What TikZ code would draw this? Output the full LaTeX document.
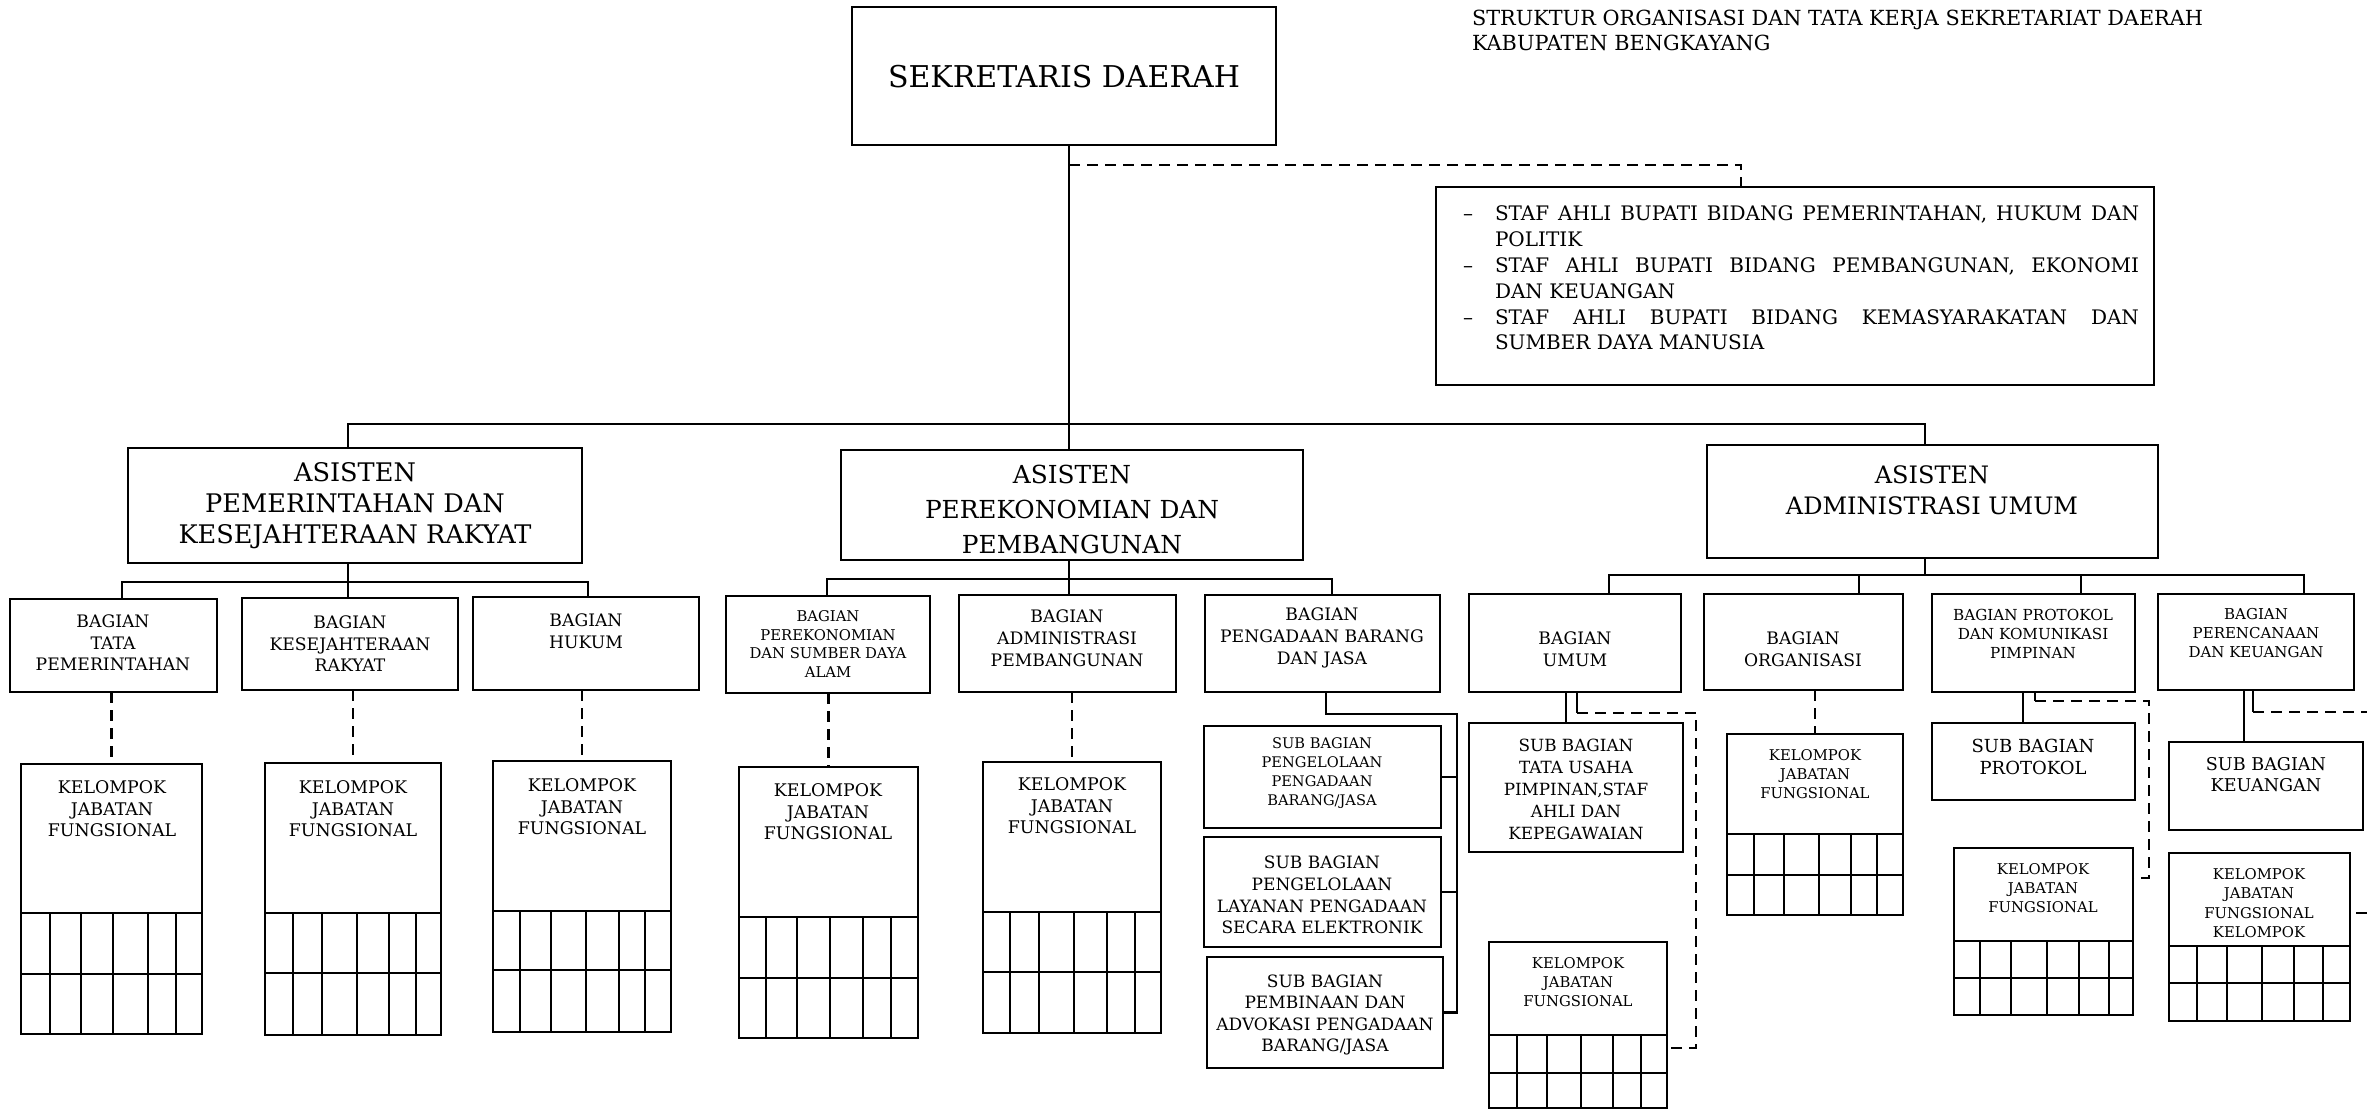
\documentclass[tikz,border=0pt]{standalone}
\usepackage{fontspec}
\setmainfont{DejaVu Serif}
\newcommand\fs[2]{\fontsize{#1}{#2}\selectfont}
% box: name, x1, y1, x2, y2 (pixel coordinates of the reference)
\newcommand\bx[5]{\node[bx, minimum width={(#4-#2)*0.5pt}, minimum height={(#5-#3)*0.5pt}] (#1) at ({(#2+#4)/2},{(#3+#5)/2}) {};}
% text: name, x, y, font, text
\newcommand\tx[5]{\node[tx, font=#4] (#1) at (#2,#3) {#5};}
% kelompok box with grid: name, x1, y1, x2, y2, grid y1, grid y2, column x list
\newcommand\kjf[8]{\bx{#1}{#2}{#3}{#4}{#5}
  \draw (#2,#6) -- (#4,#6);
  \draw (#2,#7) -- (#4,#7);
  \foreach \xx in {#8} {\draw (\xx,#6) -- (\xx,#5);}}
\begin{document}
\begin{tikzpicture}[x=0.5pt,y=-0.5pt,line width=1.25pt,
  bx/.style={draw,rectangle,inner sep=0pt,outer sep=0pt},
  tx/.style={align=center,inner sep=0pt,outer sep=0pt},
  dl/.style={dash pattern=on 5.5pt off 3.5pt}]
\useasboundingbox (0,0) rectangle (2367,1110);
\fill[white] (0,0) rectangle (2367,1110);

% ---------- title ----------
\node[tx, anchor=north west, align=left, font=\fs{10.4}{12.5}] (title) at (1472,10.5)
  {STRUKTUR ORGANISASI DAN TATA KERJA SEKRETARIAT DAERAH\\KABUPATEN BENGKAYANG};

% ---------- level 0 ----------
\bx{sek}{852}{7}{1276}{145}
\tx{sekt}{1064}{77}{\fs{15}{18}}{SEKRETARIS DAERAH}

\bx{staf}{1436}{187}{2154}{385}
\node[tx, anchor=north west, text width=338pt, align=justify, font=\fs{10}{12.9}] (staft) at (1463,206)
{\hyphenpenalty=10000\exhyphenpenalty=10000
\noindent\hangindent=16pt\hangafter=1\makebox[16pt][l]{--}STAF AHLI BUPATI BIDANG PEMERINTAHAN, HUKUM DAN\linebreak POLITIK\par
\noindent\hangindent=16pt\hangafter=1\makebox[16pt][l]{--}STAF AHLI BUPATI BIDANG PEMBANGUNAN, EKONOMI\linebreak DAN KEUANGAN\par
\noindent\hangindent=16pt\hangafter=1\makebox[16pt][l]{--}STAF AHLI BUPATI BIDANG KEMASYARAKATAN DAN\linebreak SUMBER DAYA MANUSIA\par};

% ---------- assistants ----------
\bx{a1}{128}{448}{582}{563}
\tx{a1t}{355}{506}{\fs{12.8}{15.5}}{ASISTEN\\PEMERINTAHAN DAN\\KESEJAHTERAAN RAKYAT}
\bx{a2}{841}{450}{1303}{560}
\tx{a2t}{1072}{509}{\fs{12.4}{17.5}}{ASISTEN\\PEREKONOMIAN DAN\\PEMBANGUNAN}
\bx{a3}{1707}{445}{2158}{558}
\tx{a3t}{1932}{490}{\fs{12}{15.5}}{ASISTEN\\ADMINISTRASI UMUM}

% ---------- bagian ----------
\bx{tata}{10}{599}{217}{692}
\tx{tatat}{113}{643}{\fs{8.6}{10.8}}{BAGIAN\\TATA\\PEMERINTAHAN}
\bx{kes}{242}{598}{458}{690}
\tx{kest}{350}{644}{\fs{8.6}{10.8}}{BAGIAN\\KESEJAHTERAAN\\RAKYAT}
\bx{huk}{473}{597}{699}{690}
\tx{hukt}{586}{631}{\fs{8.6}{10.8}}{BAGIAN\\HUKUM}
\bx{per}{726}{596}{930}{693}
\tx{pert}{828}{644}{\fs{7.4}{9.4}}{BAGIAN\\PEREKONOMIAN\\DAN SUMBER DAYA\\ALAM}
\bx{adm}{959}{595}{1176}{692}
\tx{admt}{1067}{638}{\fs{8.6}{11}}{BAGIAN\\ADMINISTRASI\\PEMBANGUNAN}
\bx{pbj}{1205}{595}{1440}{692}
\tx{pbjt}{1322}{638}{\fs{8.6}{11}}{BAGIAN\\PENGADAAN BARANG\\DAN JASA}
\bx{umum}{1469}{594}{1681}{692}
\tx{umumt}{1575}{649}{\fs{8.6}{11}}{BAGIAN\\UMUM}
\bx{org}{1704}{594}{1903}{690}
\tx{orgt}{1803}{649}{\fs{8.6}{11}}{BAGIAN\\ORGANISASI}
\bx{prot}{1932}{594}{2135}{692}
\tx{prott}{2033}{634}{\fs{7.6}{9.6}}{BAGIAN PROTOKOL\\DAN KOMUNIKASI\\PIMPINAN}
\bx{pk}{2158}{594}{2354}{690}
\tx{pkt}{2256}{633}{\fs{7.5}{9.4}}{BAGIAN\\PERENCANAAN\\DAN KEUANGAN}

% ---------- sub bagian ----------
\bx{s1}{1204}{726}{1441}{828}
\tx{s1t}{1322}{773}{\fs{7.3}{9.5}}{SUB BAGIAN\\PENGELOLAAN\\PENGADAAN\\BARANG/JASA}
\bx{s2}{1204}{837}{1441}{947}
\tx{s2t}{1322}{895}{\fs{8.5}{10.8}}{SUB BAGIAN\\PENGELOLAAN\\LAYANAN PENGADAAN\\SECARA ELEKTRONIK}
\bx{s3}{1207}{957}{1443}{1068}
\tx{s3t}{1325}{1015}{\fs{8.5}{10.8}}{SUB BAGIAN\\PEMBINAAN DAN\\ADVOKASI PENGADAAN\\BARANG/JASA}
\bx{stu}{1469}{723}{1683}{852}
\tx{stut}{1576}{789}{\fs{8.4}{11}}{SUB BAGIAN\\TATA USAHA\\PIMPINAN,STAF\\AHLI DAN\\KEPEGAWAIAN}
\bx{sp}{1932}{723}{2135}{800}
\tx{spt}{2033}{757}{\fs{9}{11}}{SUB BAGIAN\\PROTOKOL}
\bx{sk}{2169}{742}{2363}{830}
\tx{skt}{2266}{775}{\fs{8.8}{10.5}}{SUB BAGIAN\\KEUANGAN}

% ---------- kelompok jabatan fungsional ----------
\kjf{k1}{21}{764}{202}{1034}{913}{974}{50,81,113,148,176}
\tx{k1t}{112}{809}{\fs{8.7}{10.8}}{KELOMPOK\\JABATAN\\FUNGSIONAL}
\kjf{k2}{265}{763}{441}{1035}{913}{973}{293,322,357,389,416}
\tx{k2t}{353}{809}{\fs{8.7}{10.8}}{KELOMPOK\\JABATAN\\FUNGSIONAL}
\kjf{k3}{493}{761}{671}{1032}{911}{970}{520,551,586,619,645}
\tx{k3t}{582}{807}{\fs{8.7}{10.8}}{KELOMPOK\\JABATAN\\FUNGSIONAL}
\kjf{k4}{739}{767}{918}{1038}{917}{978}{766,797,830,863,891}
\tx{k4t}{828}{812}{\fs{8.7}{10.8}}{KELOMPOK\\JABATAN\\FUNGSIONAL}
\kjf{k5}{983}{762}{1161}{1033}{912}{972}{1010,1039,1074,1107,1135}
\tx{k5t}{1072}{806}{\fs{8.7}{10.8}}{KELOMPOK\\JABATAN\\FUNGSIONAL}
\kjf{ku}{1489}{942}{1667}{1108}{1035}{1073}{1517,1547,1581,1613,1641}
\tx{kut}{1578}{982}{\fs{7.4}{9.6}}{KELOMPOK\\JABATAN\\FUNGSIONAL}
\kjf{ko}{1727}{734}{1903}{915}{834}{875}{1754,1784,1819,1851,1877}
\tx{kot}{1815}{774}{\fs{7.4}{9.6}}{KELOMPOK\\JABATAN\\FUNGSIONAL}
\kjf{kp}{1954}{848}{2133}{1015}{941}{978}{1980,2011,2047,2079,2109}
\tx{kpt}{2043}{888}{\fs{7.4}{9.6}}{KELOMPOK\\JABATAN\\FUNGSIONAL}
\kjf{kk}{2169}{853}{2350}{1021}{946}{983}{2197,2227,2262,2294,2323}
\tx{kkt}{2259}{903}{\fs{7.4}{9.6}}{KELOMPOK\\JABATAN\\FUNGSIONAL\\KELOMPOK}

% ---------- connectors ----------
\coordinate (hub) at (1069,424);
\draw ([xshift=2.5pt]sek.south) -- (hub);
\draw ([xshift=-3.5pt]a1.north) |- (hub) -| ([xshift=-3.75pt]a3.north);
\draw (hub) -- ([xshift=-1.5pt]a2.north);
\coordinate (sj) at (1069,165);
\draw[dl] (sj) -| ([xshift=-27pt]staf.north);

\coordinate (b1) at (348,582);
\draw ([xshift=-3.5pt]a1.south) -- (b1);
\draw ([xshift=4.25pt]tata.north) |- (b1) -| ([xshift=1pt]huk.north);
\draw (b1) -- ([xshift=-1pt]kes.north);

\coordinate (b2) at (1069,579);
\draw ([xshift=-1.5pt]a2.south) -- (b2);
\draw ([xshift=-0.5pt]per.north) |- (b2) -| ([xshift=4.75pt]pbj.north);
\draw (b2) -- ([xshift=0.75pt]adm.north);

\coordinate (b3) at (1925,575);
\draw ([xshift=-3.75pt]a3.south) -- (b3);
\draw ([xshift=17pt]umum.north) |- (b3) -| ([xshift=24pt]pk.north);
\draw ([xshift=27.75pt]org.north) -- ([xshift=27.75pt]org.north |- b3);
\draw ([xshift=23.75pt]prot.north) -- ([xshift=23.75pt]prot.north |- b3);

% kelompok dashed links
\draw[dl] (k1.north |- tata.south) -- (k1.north);
\draw[dl] (k2.north |- kes.south) -- (k2.north);
\draw[dl] (k3.north |- huk.south) -- (k3.north);
\draw[dl] (k4.north |- per.south) -- (k4.north);
\draw[dl] (k5.north |- adm.south) -- (k5.north);
\draw[dl] (ko.north |- org.south) -- (ko.north);

% pengadaan subs
\coordinate (pv) at (1457,714);
\draw ([xshift=1.75pt]pbj.south) |- (pv) -- (pv |- s3.east) -- (s3.east);
\draw (s1.east) -- (s1.east -| pv);
\draw (s2.east) -- (s2.east -| pv);

% umum
\draw ([xshift=-4.5pt]umum.south) -- ([xshift=-4.5pt]umum.south |- stu.north);
\coordinate (ud1) at (1577,713);
\coordinate (ud2) at (1696,713);
\coordinate (ud3) at (1696,1048);
\draw ([xshift=1pt]umum.south) -- (ud1);
\draw[dl] (ud1) -- (ud2) -- (ud3) -- (ud3 -| ku.east);

% protokol
\draw ([xshift=-5.25pt]prot.south) -- ([xshift=-5.25pt]prot.south |- sp.north);
\coordinate (pd1) at (2035,701);
\coordinate (pd2) at (2149,701);
\coordinate (pd3) at (2149,878);
\draw ([xshift=0.75pt]prot.south) -- (pd1);
\draw[dl] (pd1) -- (pd2) -- (pd3) -- (pd3 -| kp.east);

% perencanaan
\draw ([xshift=-6pt]pk.south) -- ([xshift=-6pt]pk.south |- sk.north);
\coordinate (kd1) at (2253,712);
\coordinate (kd2) at (2367,712);
\draw ([xshift=-1.5pt]pk.south) -- (kd1);
\draw[dl] (kd1) -- (kd2);
\coordinate (kst1) at (2356,913);
\coordinate (kst2) at (2367,913);
\draw (kst1) -- (kst2);
\end{tikzpicture}
\end{document}
